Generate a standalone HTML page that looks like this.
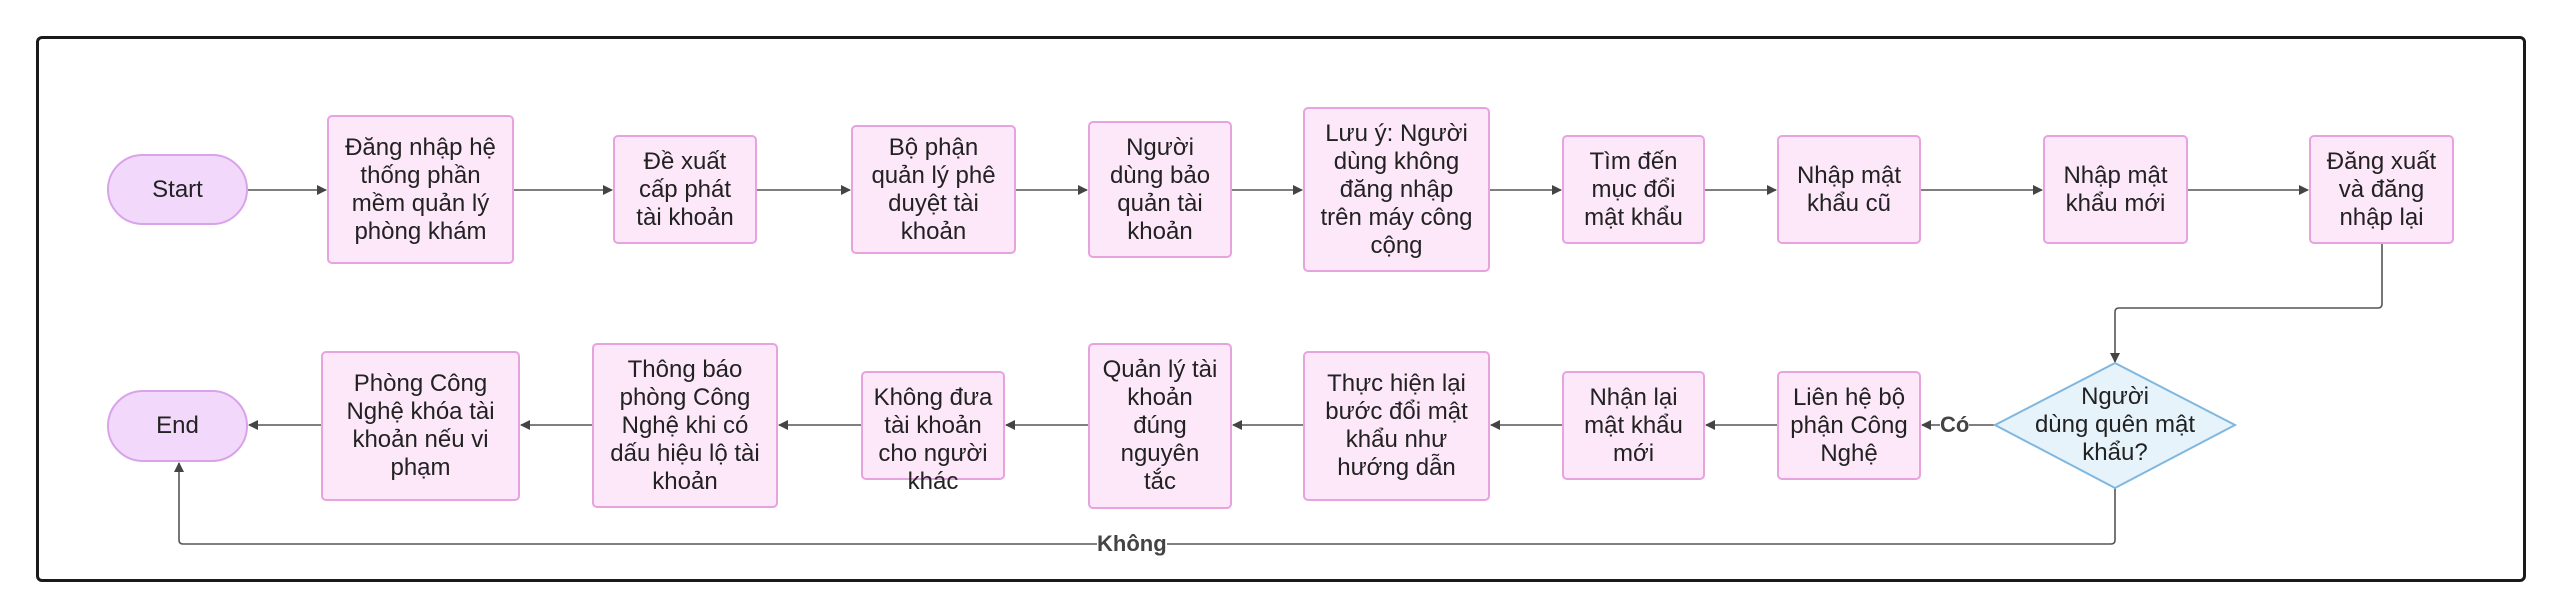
<!DOCTYPE html>
<html><head><meta charset="utf-8"><style>
html,body{margin:0;padding:0;background:#fff;}
#c{position:relative;width:2560px;height:616px;overflow:hidden;font-family:"Liberation Sans",sans-serif;}
.frame{position:absolute;left:36px;top:36px;width:2484px;height:540px;border:3px solid #1a1a1a;border-radius:6px;}
.n{position:absolute;box-sizing:border-box;background:#fde8fa;border:2px solid #e7a3de;border-radius:5px;display:flex;align-items:center;justify-content:center;text-align:center;font-size:24px;line-height:28px;color:#222;padding:0;white-space:nowrap;}
.t{background:#f2d9fb;border-color:#d9a3ea;border-radius:36px;}
.lbl{position:absolute;font-weight:bold;font-size:22px;color:#444;background:#fff;line-height:24px;}
svg{position:absolute;left:0;top:0;}
</style></head><body><div id="c">
<div class="frame"></div>
<svg width="2560" height="616">
<defs><marker id="a" markerWidth="10" markerHeight="10" refX="9" refY="5" orient="auto" markerUnits="userSpaceOnUse"><path d="M0,0 L10,5 L0,10 z" fill="#444"/></marker></defs>
<g stroke="#555" stroke-width="1.6" fill="none" marker-end="url(#a)">
<line x1="248" y1="190" x2="326" y2="190"/>
<line x1="514" y1="190" x2="612" y2="190"/>
<line x1="757" y1="190" x2="850" y2="190"/>
<line x1="1016" y1="190" x2="1087" y2="190"/>
<line x1="1232" y1="190" x2="1302" y2="190"/>
<line x1="1490" y1="190" x2="1561" y2="190"/>
<line x1="1705" y1="190" x2="1776" y2="190"/>
<line x1="1921" y1="190" x2="2042" y2="190"/>
<line x1="2188" y1="190" x2="2308" y2="190"/>
<path d="M2382,244 V304 Q2382,308 2378,308 H2119 Q2115,308 2115,312 V362"/>
<line x1="1995" y1="425" x2="1922" y2="425"/>
<line x1="1777" y1="425" x2="1706" y2="425"/>
<line x1="1562" y1="425" x2="1491" y2="425"/>
<line x1="1303" y1="425" x2="1233" y2="425"/>
<line x1="1088" y1="425" x2="1006" y2="425"/>
<line x1="861" y1="425" x2="779" y2="425"/>
<line x1="592" y1="425" x2="521" y2="425"/>
<line x1="321" y1="425" x2="249" y2="425"/>
<path d="M2115,488 V540 Q2115,544 2111,544 H183 Q179,544 179,540 V463"/>
</g>
<polygon points="2115,363 2235,425 2115,488 1995,425" fill="#e7f3fb" stroke="#80b7de" stroke-width="2"/>
</svg>
<div class="n t" style="left:107px;top:154px;width:141px;height:71px;">Start</div>
<div class="n" style="left:327px;top:115px;width:187px;height:149px;">Đăng nhập hệ<br>thống phần<br>mềm quản lý<br>phòng khám</div>
<div class="n" style="left:613px;top:135px;width:144px;height:109px;">Đề xuất<br>cấp phát<br>tài khoản</div>
<div class="n" style="left:851px;top:125px;width:165px;height:129px;">Bộ phận<br>quản lý phê<br>duyệt tài<br>khoản</div>
<div class="n" style="left:1088px;top:121px;width:144px;height:137px;">Người<br>dùng bảo<br>quản tài<br>khoản</div>
<div class="n" style="left:1303px;top:107px;width:187px;height:165px;">Lưu ý: Người<br>dùng không<br>đăng nhập<br>trên máy công<br>cộng</div>
<div class="n" style="left:1562px;top:135px;width:143px;height:109px;">Tìm đến<br>mục đổi<br>mật khẩu</div>
<div class="n" style="left:1777px;top:135px;width:144px;height:109px;">Nhập mật<br>khẩu cũ</div>
<div class="n" style="left:2043px;top:135px;width:145px;height:109px;">Nhập mật<br>khẩu mới</div>
<div class="n" style="left:2309px;top:135px;width:145px;height:109px;">Đăng xuất<br>và đăng<br>nhập lại</div>
<div class="n t" style="left:107px;top:390px;width:141px;height:72px;">End</div>
<div class="n" style="left:321px;top:351px;width:199px;height:150px;">Phòng Công<br>Nghệ khóa tài<br>khoản nếu vi<br>phạm</div>
<div class="n" style="left:592px;top:343px;width:186px;height:165px;">Thông báo<br>phòng Công<br>Nghệ khi có<br>dấu hiệu lộ tài<br>khoản</div>
<div class="n" style="left:861px;top:371px;width:144px;height:109px;align-items:flex-start;padding-top:11px;overflow:visible;">Không đưa<br>tài khoản<br>cho người<br>khác</div>
<div class="n" style="left:1088px;top:343px;width:144px;height:166px;">Quản lý tài<br>khoản<br>đúng<br>nguyên<br>tắc</div>
<div class="n" style="left:1303px;top:351px;width:187px;height:150px;">Thực hiện lại<br>bước đổi mật<br>khẩu như<br>hướng dẫn</div>
<div class="n" style="left:1562px;top:371px;width:143px;height:109px;">Nhận lại<br>mật khẩu<br>mới</div>
<div class="n" style="left:1777px;top:371px;width:144px;height:109px;">Liên hệ bộ<br>phận Công<br>Nghệ</div>
<div style="position:absolute;left:2015px;top:383px;width:200px;text-align:center;font-size:24px;line-height:28px;color:#222;white-space:nowrap;">Người<br>dùng quên mật<br>khẩu?</div>
<div class="lbl" style="left:1940px;top:413px;">Có</div>
<div class="lbl" style="left:1097px;top:532px;">Không</div>
</div></body></html>
